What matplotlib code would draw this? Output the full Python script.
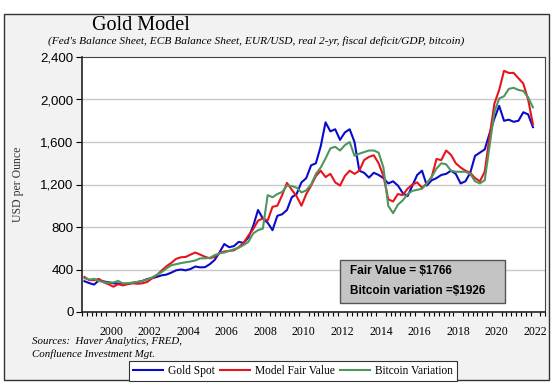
import matplotlib
matplotlib.use("Agg")
import matplotlib.pyplot as plt
from matplotlib.patches import Rectangle
import numpy as np
import pandas as pd

# quarterly observations, 1999Q1 .. 2022Q2
quarters = pd.period_range("1999Q1", "2022Q2", freq="Q")

gold_spot = [290, 272, 258, 298, 288, 280, 270, 268, 265, 266, 275, 282,
             292, 310, 318, 330, 345, 352, 370, 392, 400, 392, 405, 428,
             420, 422, 450, 490, 560, 640, 610, 620, 660, 650, 700, 810,
             960, 880, 840, 770, 905, 920, 960, 1080, 1110, 1220, 1260, 1380,
             1400, 1560, 1785, 1700, 1720, 1620, 1690, 1720, 1600, 1330, 1310, 1265,
             1310, 1290, 1260, 1210, 1230, 1190, 1120, 1090, 1190, 1290, 1330, 1190,
             1240, 1260, 1290, 1300, 1330, 1300, 1210, 1230, 1310, 1470, 1500, 1530,
             1680, 1820, 1940, 1800, 1810, 1790, 1800, 1880, 1860, 1740]

model_fair_value = [330, 300, 300, 312, 280, 262, 238, 262, 250, 262, 270, 266,
                    270, 282, 316, 345, 390, 430, 462, 500, 515, 518, 540, 560,
                    540, 520, 505, 520, 555, 570, 575, 580, 610, 650, 720, 780,
                    860, 880, 860, 990, 1000, 1100, 1215, 1150, 1090, 1000, 1110, 1190,
                    1280, 1330, 1270, 1300, 1220, 1190, 1280, 1330, 1300, 1330, 1430, 1460,
                    1475, 1400, 1280, 1060, 1040, 1110, 1100, 1160, 1200, 1220, 1170, 1210,
                    1270, 1440, 1430, 1520, 1480, 1400, 1360, 1330, 1310, 1260, 1230, 1320,
                    1650, 1960, 2090, 2270, 2250, 2250, 2200, 2150, 2000, 1766]

bitcoin_variation = [318, 305, 312, 292, 280, 276, 278, 292, 268, 272, 276, 284,
                     292, 305, 325, 350, 375, 410, 440, 450, 460, 468, 475, 485,
                     505, 505, 510, 535, 552, 560, 575, 590, 605, 630, 660, 740,
                     770, 785, 1100, 1080, 1110, 1130, 1190, 1185, 1170, 1125, 1145, 1200,
                     1300, 1360, 1445, 1540, 1555, 1520, 1570, 1600, 1470, 1490, 1505, 1520,
                     1520, 1500, 1360, 1000, 930, 1010, 1050, 1110, 1140, 1150, 1160, 1210,
                     1270, 1350, 1400, 1390, 1330, 1320, 1320, 1320, 1300, 1230, 1210, 1240,
                     1560, 1880, 2010, 2030, 2100, 2110, 2090, 2080, 2020, 1926]

y_ticks = [0, 400, 800, 1200, 1600, 2000, 2400]
x_labels = [2000, 2002, 2004, 2006, 2008, 2010, 2012, 2014, 2016, 2018, 2020, 2022]

t = np.array([q.year + (q.quarter - 1) / 4 + 0.125 for q in quarters])

SERIF = ["Liberation Serif", "DejaVu Serif"]
SANS = ["Liberation Sans", "DejaVu Sans"]

W, H = 557, 390
fig = plt.figure(figsize=(W / 100, H / 100), dpi=100, facecolor="white")

# outer grey panel with border
fig.patches.append(Rectangle((4 / W, 1 - 380 / H), 545 / W, 366 / H,
                             transform=fig.transFigure, facecolor="#f2f2f2",
                             edgecolor="#333333", linewidth=1.0, zorder=-5))

ax = fig.add_axes([82 / W, 1 - 312 / H, 463 / W, 255 / H])
ax.set_zorder(2)
ax.set_facecolor("white")

ax.plot(t, gold_spot, color="#0a0acc", lw=1.5, label="Gold Spot", zorder=3)
ax.plot(t, model_fair_value, color="#e8141c", lw=1.5, label="Model Fair Value", zorder=4)
ax.plot(t, bitcoin_variation, color="#4f965c", lw=1.5, label="Bitcoin Variation", zorder=5)

ax.set_xlim(1999, 2023)
ax.set_ylim(0, 2400)
ax.set_yticks(y_ticks)
ax.set_yticklabels([f"{v:,}" for v in y_ticks], family=SANS, fontsize=9.5)
for v in y_ticks[1:-1]:
    ax.axhline(v, color="#c8c8c8", lw=1.0, zorder=1)

ax.set_xticks([y + 0.5 for y in x_labels])
ax.set_xticklabels([str(y) for y in x_labels], family=SERIF, fontsize=8.5)
ax.set_xticks(np.arange(1999, 2023.01, 0.25), minor=True)
ax.tick_params(axis="x", which="major", length=0, pad=10)
ax.tick_params(axis="x", which="minor", length=3, width=0.8, direction="out")
ax.tick_params(axis="y", length=4, width=0.8, pad=2)

for s in ["left", "bottom"]:
    ax.spines[s].set_linewidth(1.2)
    ax.spines[s].set_color("#222222")
for s in ["top", "right"]:
    ax.spines[s].set_linewidth(0.8)
    ax.spines[s].set_color("#444444")

ax.set_ylabel("USD per Ounce", family=SERIF, fontsize=8.5,
              color="#333333", labelpad=12)

# value box
ax.add_patch(Rectangle((0.557, 0.035), 0.357, 0.17, transform=ax.transAxes,
                       facecolor="#c4c4c4", edgecolor="#555555", lw=1.0, zorder=6))
ax.text(0.578, 0.162, "Fair Value = $1766", transform=ax.transAxes,
        family=SANS, fontweight="bold", fontsize=8.5, va="center", zorder=7)
ax.text(0.578, 0.083, "Bitcoin variation =$1926", transform=ax.transAxes,
        family=SANS, fontweight="bold", fontsize=8.5, va="center", zorder=7)

fig.text(92 / W, 1 - 25 / H, "Gold Model", family=SERIF, fontsize=14.5, va="center")
fig.text(48 / W, 1 - 41 / H,
         "(Fed's Balance Sheet, ECB Balance Sheet, EUR/USD, real 2-yr, fiscal deficit/GDP, bitcoin)",
         family=SERIF, style="italic", fontsize=8.2, va="center")
fig.text(32 / W, 1 - 341 / H, "Sources:  Haver Analytics, FRED,",
         family=SERIF, style="italic", fontsize=7.8, va="center")
fig.text(32 / W, 1 - 354 / H, "Confluence Investment Mgt.",
         family=SERIF, style="italic", fontsize=7.8, va="center")

leg = fig.legend(loc="lower center", bbox_to_anchor=(293 / W, 1 - 381 / H),
                 ncol=3, frameon=True, fancybox=False,
                 prop={"family": SERIF, "size": 8.3},
                 handlelength=2.6, handletextpad=0.4, columnspacing=0.5,
                 borderpad=0.35, borderaxespad=0)
leg.get_frame().set_edgecolor("#333333")
leg.get_frame().set_linewidth(0.8)
leg.get_frame().set_facecolor("white")
leg.get_frame().set_alpha(1)

fig.savefig("out.png", dpi=100, facecolor="white")
